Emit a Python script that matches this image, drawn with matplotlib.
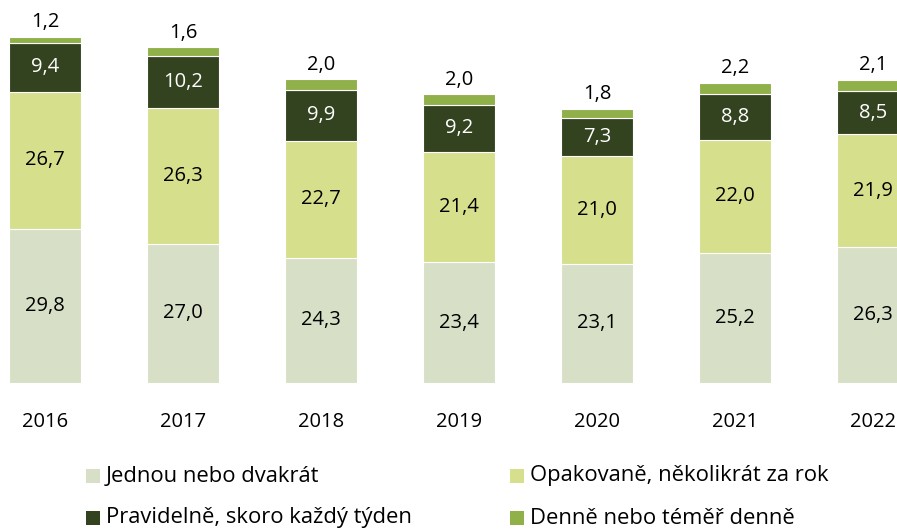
import matplotlib
matplotlib.use("Agg")
import matplotlib.pyplot as plt
from matplotlib.patches import Rectangle

plt.rcParams['font.family'] = ['Open Sans', 'DejaVu Sans']

years = ["2016", "2017", "2018", "2019", "2020", "2021", "2022"]
jednou = [29.8, 27.0, 24.3, 23.4, 23.1, 25.2, 26.3]
opakovane = [26.7, 26.3, 22.7, 21.4, 21.0, 22.0, 21.9]
pravidelne = [9.4, 10.2, 9.9, 9.2, 7.3, 8.8, 8.5]
denne = [1.2, 1.6, 2.0, 2.0, 1.8, 2.2, 2.1]

series = [
    ("Jednou nebo dvakrát", jednou, "#d7e0c6", "black"),
    ("Opakovaně, několikrát za rok", opakovane, "#d6df8c", "black"),
    ("Pravidelně, skoro každý týden", pravidelne, "#334320", "white"),
    ("Denně nebo téměř denně", denne, "#90b04a", None),
]

W, H = 897, 529
FS = 14.5
LFS = 15.8
fig = plt.figure(figsize=(W / 100, H / 100), dpi=100)
ax = fig.add_axes([0, 0.276, 1, 0.724])
x = list(range(len(years)))
bottom = [0.0] * len(years)
colors = {}
for name, vals, color, tc in series:
    ax.bar(x, vals, width=0.52, bottom=bottom, color=color,
           edgecolor="white", linewidth=0.8)
    colors[name] = color
    for i, v in enumerate(vals):
        lab = f"{v:.1f}".replace(".", ",")
        if tc is not None:
            ax.text(i, bottom[i] + v / 2, lab, ha="center", va="center",
                    color=tc, fontsize=FS)
        else:
            ax.text(i, bottom[i] + v + 0.9, lab, ha="center", va="bottom",
                    color="black", fontsize=FS)
    bottom = [b + v for b, v in zip(bottom, vals)]

ax.set_xlim(-0.326, 6.174)
ax.set_ylim(0, 74.27)
ax.set_xticks(x)
ax.set_xticklabels(years, fontsize=FS)
ax.tick_params(axis="x", length=0, pad=21)
ax.set_yticks([])
for s in ax.spines.values():
    s.set_visible(False)

# legend (manual layout, 2 columns x 2 rows)
legend_items = [
    ("Jednou nebo dvakrát", 86, 476),
    ("Opakovaně, několikrát za rok", 510, 476),
    ("Pravidelně, skoro každý týden", 86, 518),
    ("Denně nebo téměř denně", 510, 518),
]
sq = 14
for name, px, py in legend_items:
    fig.add_artist(Rectangle((px / W, 1 - (py + sq / 2) / H), sq / W, sq / H,
                             transform=fig.transFigure,
                             facecolor=colors[name], edgecolor="none"))
    fig.text((px + sq + 6) / W, 1 - py / H, name, ha="left", va="center",
             fontsize=LFS)

fig.savefig("out.png", dpi=100)
